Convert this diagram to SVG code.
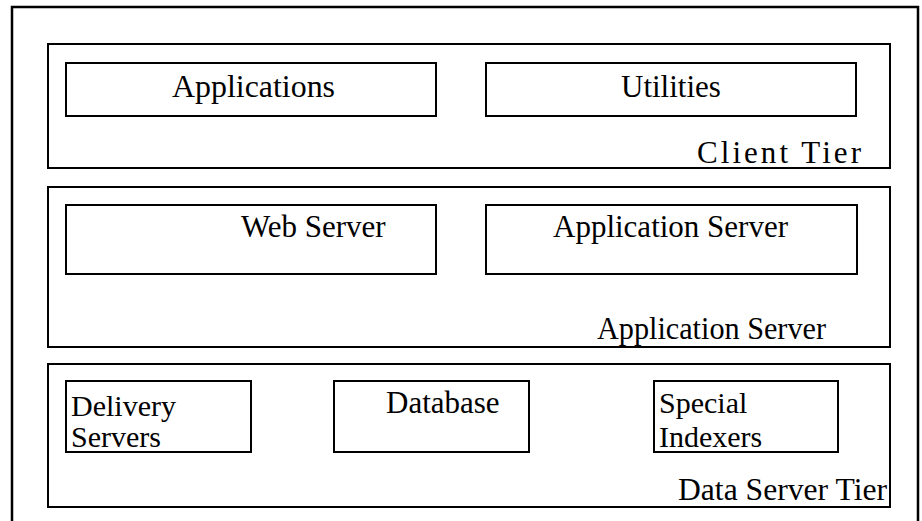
<svg xmlns="http://www.w3.org/2000/svg" width="922" height="521" viewBox="0 0 922 521">
  <style>
    .frame { fill: none; stroke: #000; stroke-width: 2.5; }
    .tier { fill: none; stroke: #000; stroke-width: 2; }
    .box { fill: none; stroke: #000; stroke-width: 2; }
    .lbl { font-family: "Liberation Serif", "Times New Roman", serif; font-size: 31px; fill: #000; }
    .two { font-size: 30px; }
  </style>
  <rect width="922" height="521" fill="#fff"/>
  <!-- page frame (open at the bottom) -->
  <path class="frame" d="M12,521 V7 H918 V521"/>

  <g id="client-tier">
    <rect class="tier" x="48" y="44" width="842" height="124"/>
    <text class="lbl" x="697" y="163" font-size="33" textLength="164" lengthAdjust="spacing">Client Tier</text>
  </g>
  <g id="applications">
    <rect class="box" x="66" y="63" width="370" height="53"/>
    <text class="lbl" x="172" y="97" textLength="163" lengthAdjust="spacingAndGlyphs">Applications</text>
  </g>
  <g id="utilities">
    <rect class="box" x="486" y="63" width="370" height="53"/>
    <text class="lbl" x="621" y="97">Utilities</text>
  </g>

  <g id="application-tier">
    <rect class="tier" x="48" y="187" width="842" height="160"/>
    <text class="lbl" x="597" y="339" textLength="229" lengthAdjust="spacingAndGlyphs">Application Server</text>
  </g>
  <g id="web-server">
    <rect class="box" x="66" y="205" width="370" height="69"/>
    <text class="lbl" x="241" y="237">Web Server</text>
  </g>
  <g id="application-server">
    <rect class="box" x="486" y="205" width="371" height="69"/>
    <text class="lbl" x="553" y="237">Application Server</text>
  </g>

  <g id="data-tier">
    <rect class="tier" x="48" y="364" width="842" height="143"/>
    <text class="lbl" x="678" y="500" textLength="209" lengthAdjust="spacingAndGlyphs">Data Server Tier</text>
  </g>
  <g id="delivery-servers">
    <rect class="box" x="66" y="381" width="185" height="71"/>
    <text class="lbl two" x="71" y="416">Delivery</text>
    <text class="lbl two" x="71" y="447">Servers</text>
  </g>
  <g id="database">
    <rect class="box" x="334" y="381" width="195" height="71"/>
    <text class="lbl" x="386" y="413">Database</text>
  </g>
  <g id="special-indexers">
    <rect class="box" x="654" y="381" width="184" height="71"/>
    <text class="lbl two" x="659" y="413">Special</text>
    <text class="lbl two" x="659" y="447">Indexers</text>
  </g>

  <g id="connectors"/>
</svg>
